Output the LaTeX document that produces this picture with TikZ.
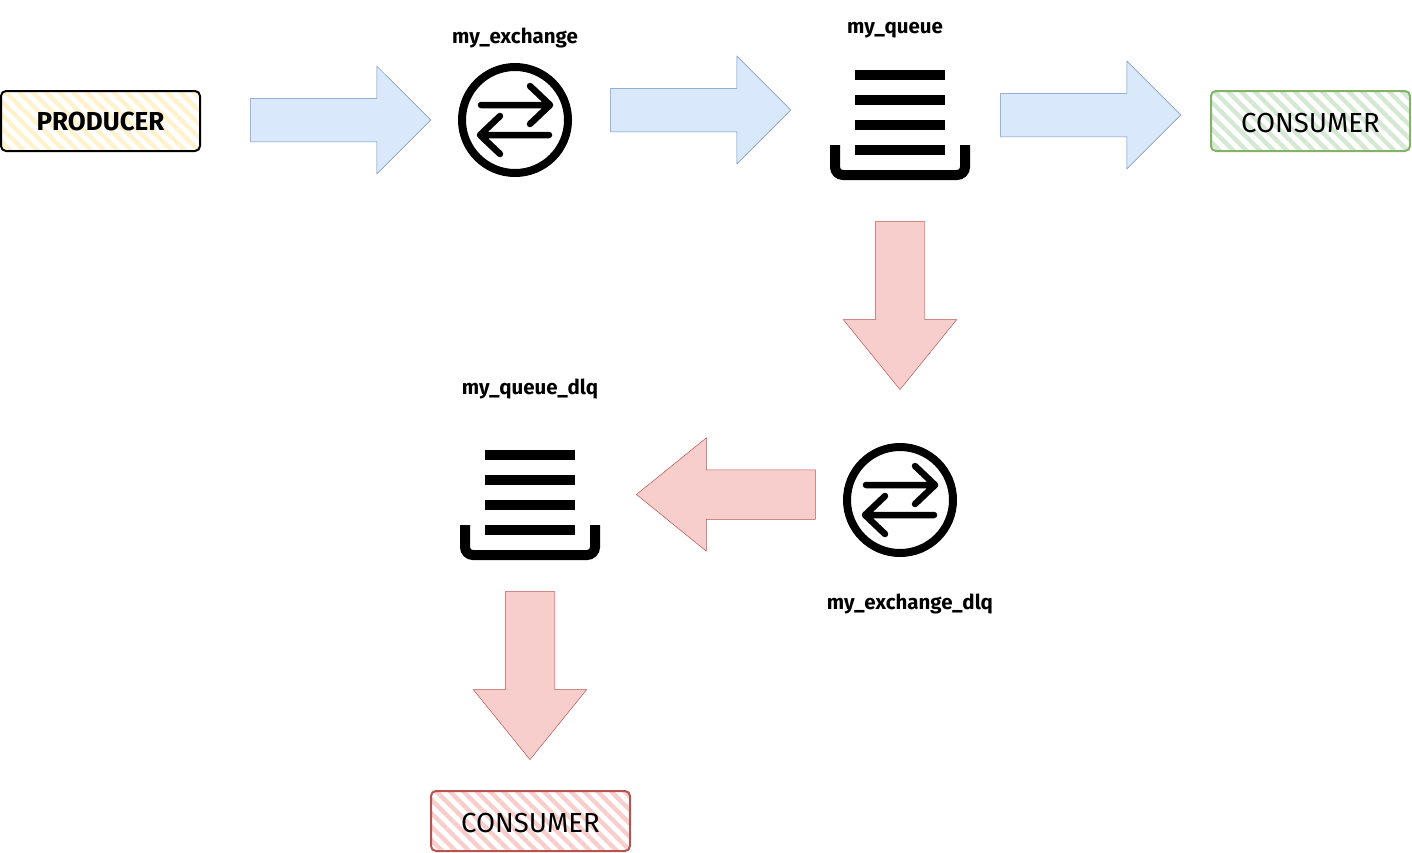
\documentclass[tikz,border=0pt]{standalone}
\usepackage{xcolor}
\usepackage{fontspec}
\setmainfont{Fira Sans}
\usetikzlibrary{arrows.meta, positioning, calc, shapes.arrows, patterns.meta}
\definecolor{blueFill}{HTML}{DAE8FC}
\definecolor{blueLine}{HTML}{6C8EBF}
\definecolor{redFill}{HTML}{F8CECC}
\definecolor{redLine}{HTML}{B85450}
\definecolor{greenFill}{HTML}{D5E8D4}
\definecolor{greenLine}{HTML}{82B366}
\definecolor{yellowFill}{HTML}{FFF2CC}
\tikzset{
    hatchbox/.style n args={2}{rectangle, draw=#1, line width=2pt, rounded corners=5pt,
        minimum width=199pt, minimum height=60pt, inner sep=0pt, font=\fontsize{27.5}{32}\selectfont,
        pattern={Lines[angle=-45, distance=9.5pt, line width=4.4pt]}, pattern color=#2},
    bluearrow/.style={single arrow, draw=blueLine, fill=blueFill, line width=0.5pt,
        inner xsep=0pt, inner ysep=21.5pt, anchor=tip,
        minimum height=180pt, minimum width=107pt, single arrow head extend=32pt,
        single arrow tip angle=90, single arrow head indent=0pt},
    redarrow/.style={single arrow, draw=redLine, fill=redFill, line width=0.5pt,
        inner xsep=0pt, inner ysep=24.5pt, anchor=tip,
        minimum height=168pt, minimum width=113pt, single arrow head extend=32pt,
        single arrow tip angle=78, single arrow head indent=0pt},
    iconlabel/.style={inner sep=0pt, font=\bfseries\fontsize{20.5}{25}\selectfont},
    exchangeicon/.pic={
        \draw[line width=8pt] (0,0) circle (53);
        \draw[line width=6.5pt, line cap=round, line join=round]
            (-34,-15) -- (35,-15) (15,-34) -- (35,-15) -- (15,4)
            (34,15) -- (-35,15) (-15,-4) -- (-35,15) -- (-15,34);
    },
    queueicon/.pic={
        \foreach \barY in {-50,-25,0,25}
            \fill (-45,\barY) rectangle (45,\barY+10);
        \draw[line width=10pt, rounded corners=8pt] (-65,25) -- (-65,55) -- (65,55) -- (65,25);
    }
}
\begin{document}
\begin{tikzpicture}[x=1pt, y=-1pt]
    \useasboundingbox (0,0) rectangle (1412,852);
    % top row
    \node[hatchbox={black}{yellowFill}, font=\bfseries\fontsize{26}{30}\selectfont] (producer) at (100.5,121) {PRODUCER};
    \node[bluearrow] (arrowA) at (431,120) {};
    \pic at (515,120) {exchangeicon};
    \node[iconlabel] (labelExchange) at (515,38) {my\_exchange};
    \node[bluearrow] (arrowB) at (791,110) {};
    \pic at (900,120) {queueicon};
    \node[iconlabel] (labelQueue) at (895,30) {my\_queue};
    \node[bluearrow] (arrowC) at (1181,115) {};
    \node[hatchbox={greenLine}{greenFill}] (consumerTop) at (1310.5,121) {\raisebox{-2pt}[\height][\depth]{CONSUMER}};
    % dead letter path
    \node[redarrow, rotate=-90] (arrowD) at (900,390) {};
    \pic at (900,500) {exchangeicon};
    \node[iconlabel] (labelExchangeDlq) at (910,604) {my\_exchange\_dlq};
    \node[redarrow, rotate=180, minimum height=179pt] (arrowE) at (636,494.5) {};
    \pic at (530,500) {queueicon};
    \node[iconlabel] (labelQueueDlq) at (530,389) {my\_queue\_dlq};
    \node[redarrow, rotate=-90] (arrowF) at (530,760) {};
    \node[hatchbox={redLine}{redFill}] (consumerBottom) at (530.5,821) {\raisebox{-2pt}[\height][\depth]{CONSUMER}};
\end{tikzpicture}
\end{document}
